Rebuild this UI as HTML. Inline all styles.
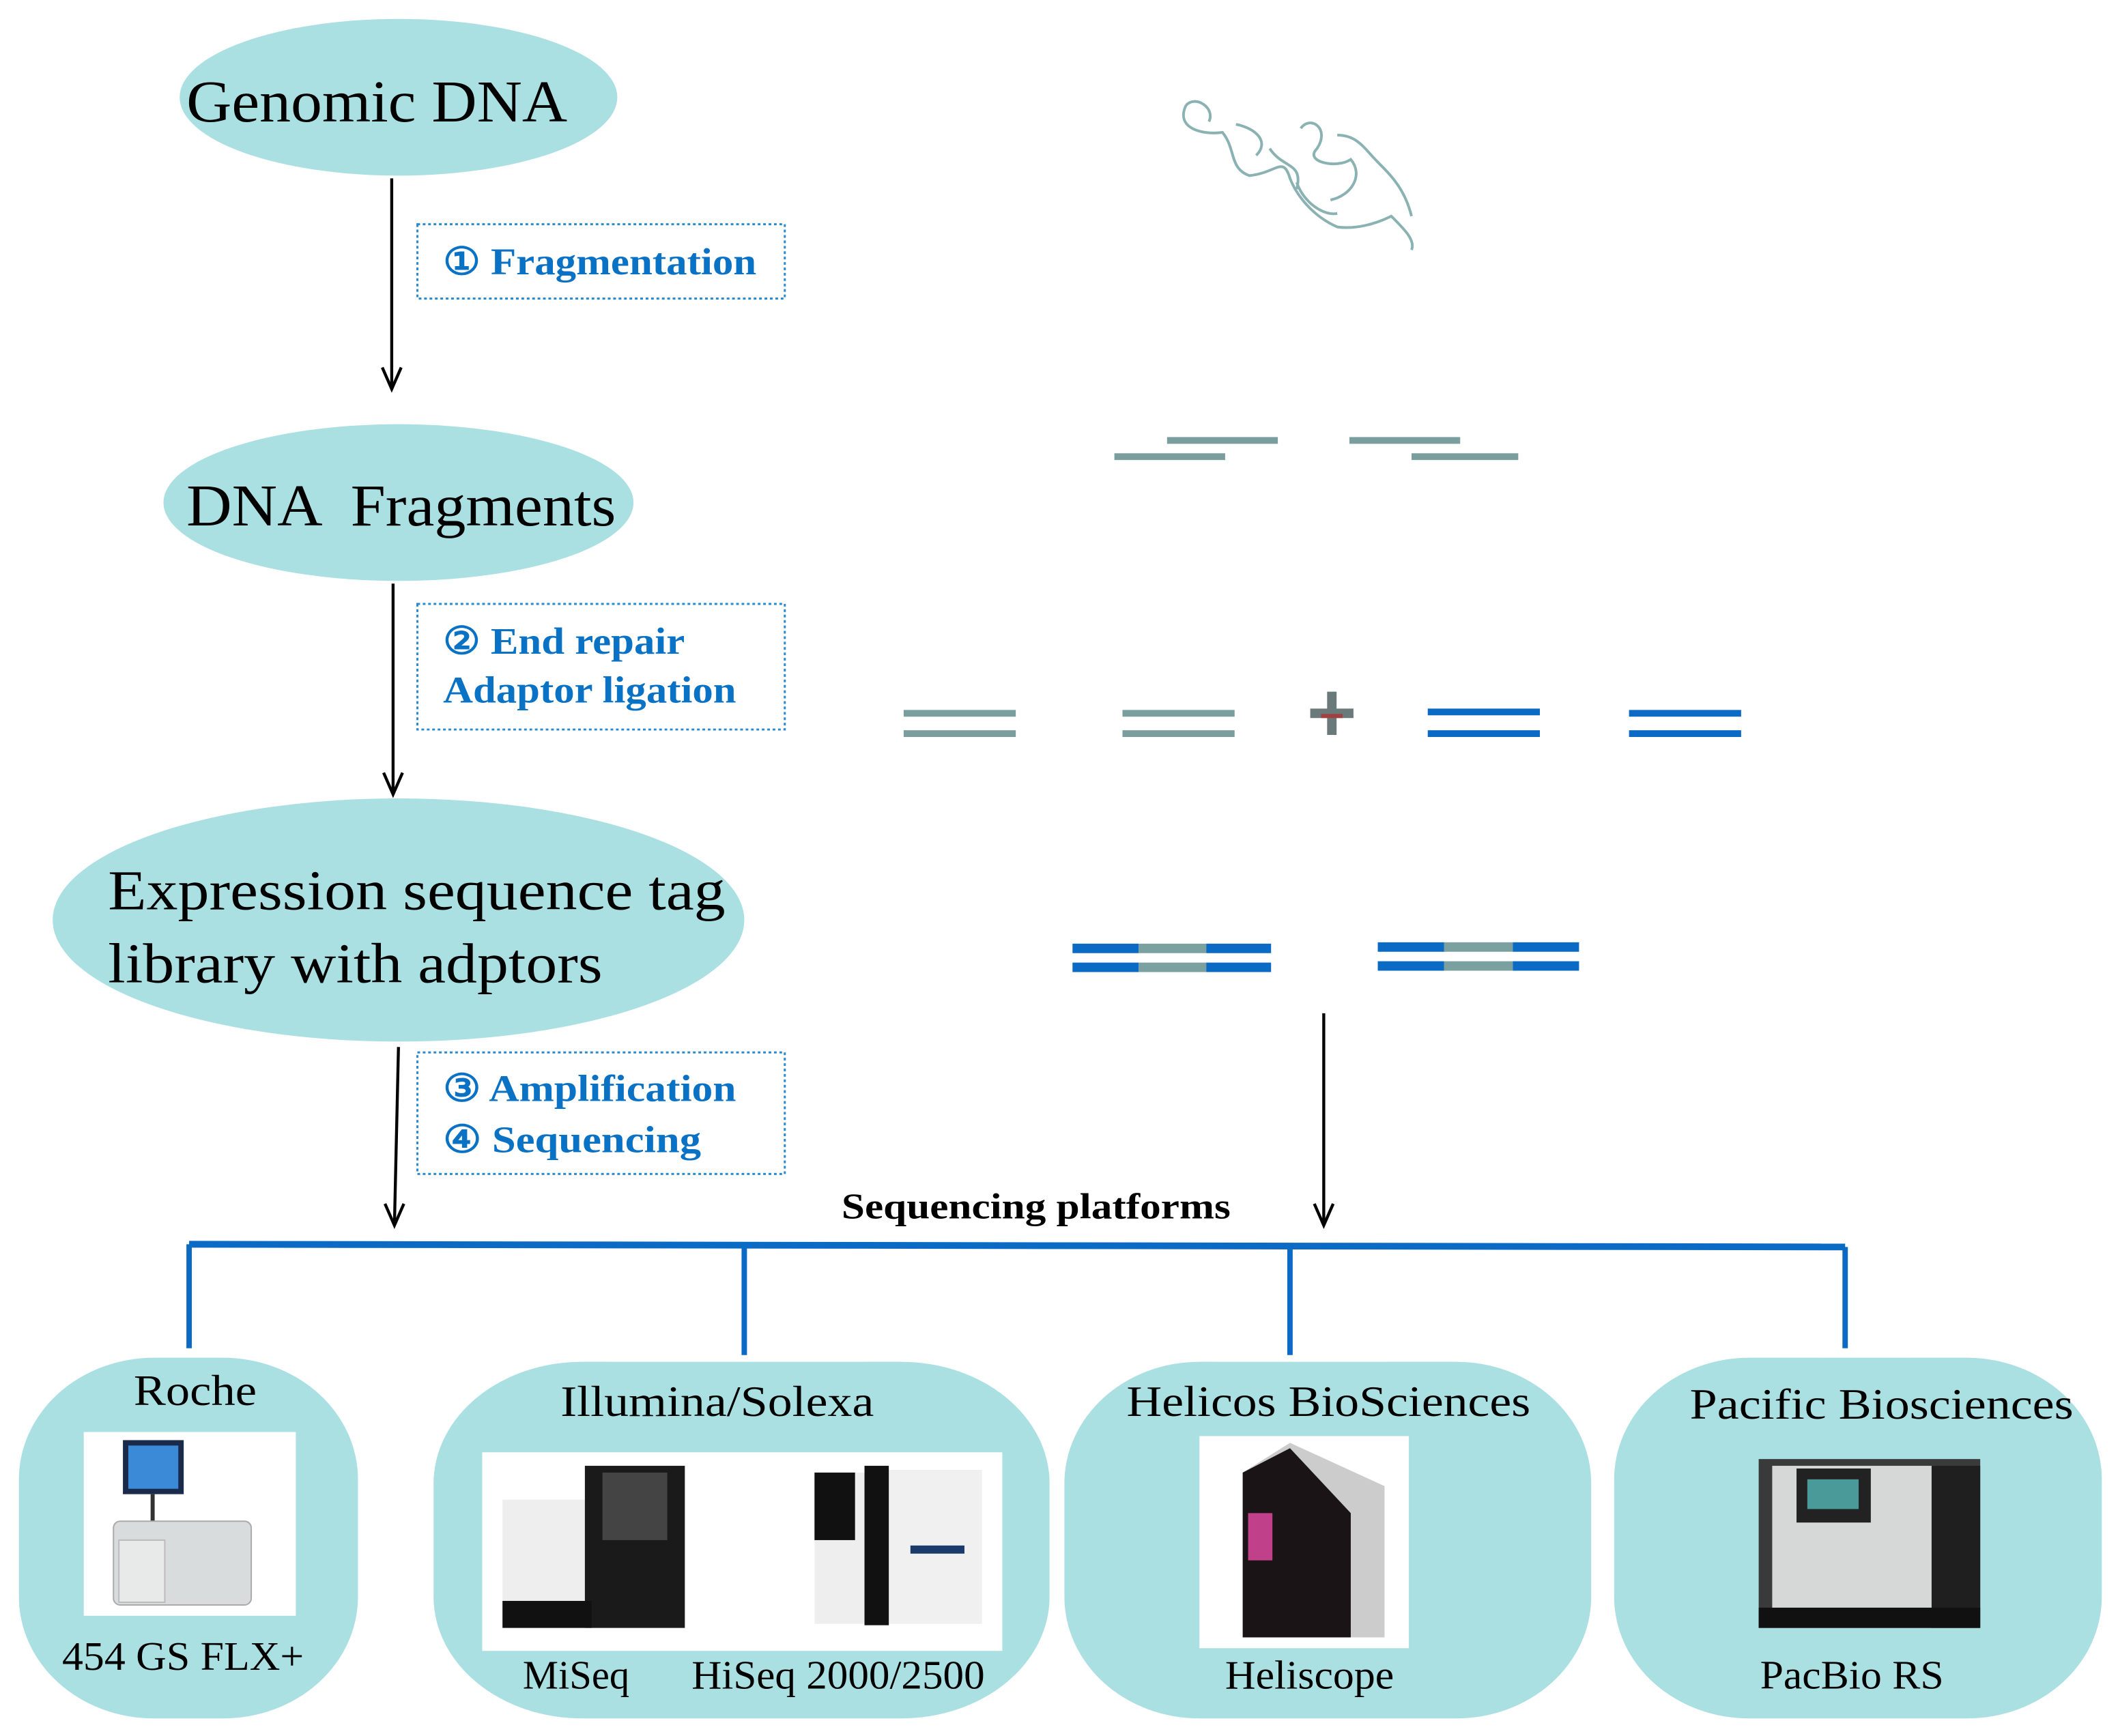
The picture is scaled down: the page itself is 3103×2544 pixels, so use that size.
<!DOCTYPE html>
<html><head><meta charset="utf-8"><style>
html,body{margin:0;padding:0;background:#fff;}
svg{display:block;}
text{font-family:"Liberation Serif",serif;}
</style></head><body>
<svg width="3103" height="2544" viewBox="0 0 1568 1285" preserveAspectRatio="none" xmlns="http://www.w3.org/2000/svg">
<rect width="1568" height="1285" fill="#fff"/>

<!-- ellipses -->
<ellipse cx="295" cy="72" rx="162" ry="58" fill="#abe0e3"/>
<text x="138" y="90" font-size="44" textLength="282" lengthAdjust="spacingAndGlyphs">Genomic DNA</text>
<ellipse cx="295" cy="372" rx="174" ry="58" fill="#abe0e3"/>
<text x="138" y="389" font-size="44" textLength="318" lengthAdjust="spacingAndGlyphs" xml:space="preserve">DNA  Fragments</text>
<ellipse cx="295" cy="681" rx="256" ry="90" fill="#abe0e3"/>
<text x="80" y="673" font-size="42" textLength="457" lengthAdjust="spacingAndGlyphs">Expression sequence tag</text>
<text x="80" y="727" font-size="42" textLength="366" lengthAdjust="spacingAndGlyphs">library with adptors</text>

<!-- arrows -->
<g stroke="#000" stroke-width="2.2" fill="none">
<line x1="290" y1="132" x2="290" y2="288"/>
<path d="M283,272 L290,288 L297,272"/>
<line x1="291" y1="432" x2="291" y2="588"/>
<path d="M284,572 L291,588 L298,572"/>
<line x1="295" y1="775" x2="292" y2="907"/>
<path d="M285,891 L292,907 L299,891"/>
<line x1="980" y1="750" x2="980" y2="907"/>
<path d="M973,891 L980,907 L987,891"/>
</g>

<!-- step boxes -->
<g fill="none" stroke="#2a8ad0" stroke-width="1.5" stroke-dasharray="2,2">
<rect x="309" y="166" width="272" height="55"/>
<rect x="309" y="447" width="272" height="93"/>
<rect x="309" y="779" width="272" height="90"/>
</g>
<g fill="#0a72c4" font-weight="bold" font-size="28" lengthAdjust="spacingAndGlyphs">
<text x="328" y="203" textLength="232" lengthAdjust="spacingAndGlyphs">① Fragmentation</text>
<text x="328" y="484" textLength="179" lengthAdjust="spacingAndGlyphs">② End repair</text>
<text x="328" y="520" textLength="217" lengthAdjust="spacingAndGlyphs">Adaptor ligation</text>
<text x="328" y="815" textLength="217" lengthAdjust="spacingAndGlyphs">③ Amplification</text>
<text x="328" y="853" textLength="191" lengthAdjust="spacingAndGlyphs">④ Sequencing</text>
</g>

<text x="623" y="902" font-size="27" font-weight="bold" textLength="288" lengthAdjust="spacingAndGlyphs">Sequencing platforms</text>

<!-- platform tree -->
<g stroke="#0a6ac4" fill="none">
<line x1="140" y1="921" x2="1366" y2="923" stroke-width="5"/>
<line x1="140" y1="921" x2="140" y2="998" stroke-width="4"/>
<line x1="551" y1="921" x2="551" y2="1003" stroke-width="4"/>
<line x1="955" y1="922" x2="955" y2="1003" stroke-width="4"/>
<line x1="1366" y1="923" x2="1366" y2="998" stroke-width="4"/>
</g>

<!-- platform boxes -->
<g fill="#abe0e3">
<rect x="14" y="1005" width="251" height="267" rx="100" ry="90"/>
<rect x="321" y="1008" width="456" height="264" rx="110" ry="90"/>
<rect x="788" y="1008" width="390" height="264" rx="100" ry="90"/>
<rect x="1195" y="1005" width="361" height="267" rx="100" ry="90"/>
</g>
<g font-size="32">
<text x="99" y="1040" textLength="91" lengthAdjust="spacingAndGlyphs">Roche</text>
<text x="415" y="1048" textLength="232" lengthAdjust="spacingAndGlyphs">Illumina/Solexa</text>
<text x="834" y="1048" textLength="299" lengthAdjust="spacingAndGlyphs">Helicos BioSciences</text>
<text x="1251" y="1050" textLength="284" lengthAdjust="spacingAndGlyphs">Pacific Biosciences</text>
</g>
<g font-size="30">
<text x="46" y="1236" textLength="179" lengthAdjust="spacingAndGlyphs">454 GS FLX+</text>
<text x="387" y="1250" textLength="79" lengthAdjust="spacingAndGlyphs">MiSeq</text>
<text x="512" y="1250" textLength="217" lengthAdjust="spacingAndGlyphs">HiSeq 2000/2500</text>
<text x="907" y="1250" textLength="125" lengthAdjust="spacingAndGlyphs">Heliscope</text>
<text x="1303" y="1250" textLength="136" lengthAdjust="spacingAndGlyphs">PacBio RS</text>
</g>

<!-- machine images (simplified) -->
<rect x="62" y="1060" width="157" height="136" fill="#fff"/>
<rect x="91" y="1066" width="45" height="40" fill="#1a2a4a"/>
<rect x="95" y="1070" width="37" height="32" fill="#3a8ad8"/>
<line x1="113" y1="1106" x2="113" y2="1128" stroke="#333" stroke-width="3"/>
<rect x="84" y="1126" width="102" height="62" rx="5" fill="#d8dcdc" stroke="#aaa"/>
<rect x="88" y="1140" width="34" height="46" fill="#e8eaea" stroke="#bbb"/>

<rect x="357" y="1075" width="385" height="147" fill="#fff"/>
<rect x="372" y="1110" width="66" height="75" fill="#eee"/>
<rect x="433" y="1085" width="74" height="120" fill="#1a1a1a"/>
<rect x="446" y="1090" width="48" height="50" fill="#444"/>
<rect x="372" y="1185" width="66" height="20" fill="#111"/>
<rect x="603" y="1090" width="40" height="112" fill="#eee"/>
<rect x="603" y="1090" width="30" height="50" fill="#111"/>
<rect x="655" y="1088" width="72" height="114" fill="#f0f0f0"/>
<rect x="640" y="1085" width="18" height="118" fill="#111"/>
<rect x="674" y="1144" width="40" height="6" fill="#1a3a6a"/>

<rect x="888" y="1063" width="155" height="157" fill="#fff"/>
<polygon points="920,1090 955,1068 1025,1100 1025,1212 920,1212" fill="#ccc"/>
<polygon points="920,1090 955,1072 1000,1120 1000,1212 920,1212" fill="#1a1416"/>
<rect x="924" y="1120" width="18" height="35" fill="#c0408a"/>

<rect x="1302" y="1080" width="164" height="125" fill="#3a3a3a"/>
<rect x="1312" y="1085" width="120" height="110" fill="#d6d8d8"/>
<rect x="1330" y="1087" width="55" height="40" fill="#222"/>
<rect x="1338" y="1095" width="38" height="22" fill="#4a9a9a"/>
<rect x="1430" y="1085" width="36" height="120" fill="#1f1f1f"/>
<rect x="1302" y="1190" width="164" height="15" fill="#111"/>

<!-- DNA graphics -->
<path d="M878,78 C870,95 890,100 905,98 C915,110 910,125 925,130 C945,128 950,115 955,132 C960,145 972,160 990,168 C1005,170 1020,165 1030,160 C1040,170 1048,178 1045,185 M878,78 C885,70 900,80 895,90 M915,92 C930,95 940,105 930,115 M963,95 C970,85 985,95 975,110 C965,120 990,125 1000,118 C1010,130 1000,145 985,148 M990,100 C1005,100 1010,110 1020,120 C1030,130 1040,140 1045,160 M960,135 C965,150 980,160 990,158 M940,110 C950,125 965,120 960,140" fill="none" stroke="#8ab2b2" stroke-width="2"/>
<g stroke="#7a9e9e" stroke-width="5">
<line x1="864" y1="326" x2="946" y2="326"/>
<line x1="825" y1="338" x2="907" y2="338"/>
<line x1="999" y1="326" x2="1081" y2="326"/>
<line x1="1045" y1="338" x2="1124" y2="338"/>
<line x1="669" y1="528" x2="752" y2="528"/>
<line x1="669" y1="543" x2="752" y2="543"/>
<line x1="831" y1="528" x2="914" y2="528"/>
<line x1="831" y1="543" x2="914" y2="543"/>
</g>
<g stroke="#0a6ac4" stroke-width="5">
<line x1="1057" y1="527" x2="1140" y2="527"/>
<line x1="1057" y1="543" x2="1140" y2="543"/>
<line x1="1206" y1="528" x2="1289" y2="528"/>
<line x1="1206" y1="543" x2="1289" y2="543"/>
</g>
<g stroke="#6a7a7a" stroke-width="7">
<line x1="970" y1="528" x2="1002" y2="528"/>
<line x1="986" y1="512" x2="986" y2="544"/>
</g>
<line x1="978" y1="530" x2="994" y2="530" stroke="#a04040" stroke-width="3"/>
<g stroke-width="7">
<line x1="794" y1="702" x2="843" y2="702" stroke="#0a6ac4"/>
<line x1="843" y1="702" x2="893" y2="702" stroke="#7aa0a0"/>
<line x1="893" y1="702" x2="941" y2="702" stroke="#0a6ac4"/>
<line x1="794" y1="716" x2="843" y2="716" stroke="#0a6ac4"/>
<line x1="843" y1="716" x2="893" y2="716" stroke="#7aa0a0"/>
<line x1="893" y1="716" x2="941" y2="716" stroke="#0a6ac4"/>
<line x1="1020" y1="701" x2="1069" y2="701" stroke="#0a6ac4"/>
<line x1="1069" y1="701" x2="1120" y2="701" stroke="#7aa0a0"/>
<line x1="1120" y1="701" x2="1169" y2="701" stroke="#0a6ac4"/>
<line x1="1020" y1="715" x2="1069" y2="715" stroke="#0a6ac4"/>
<line x1="1069" y1="715" x2="1120" y2="715" stroke="#7aa0a0"/>
<line x1="1120" y1="715" x2="1169" y2="715" stroke="#0a6ac4"/>
</g>
</svg>
</body></html>
